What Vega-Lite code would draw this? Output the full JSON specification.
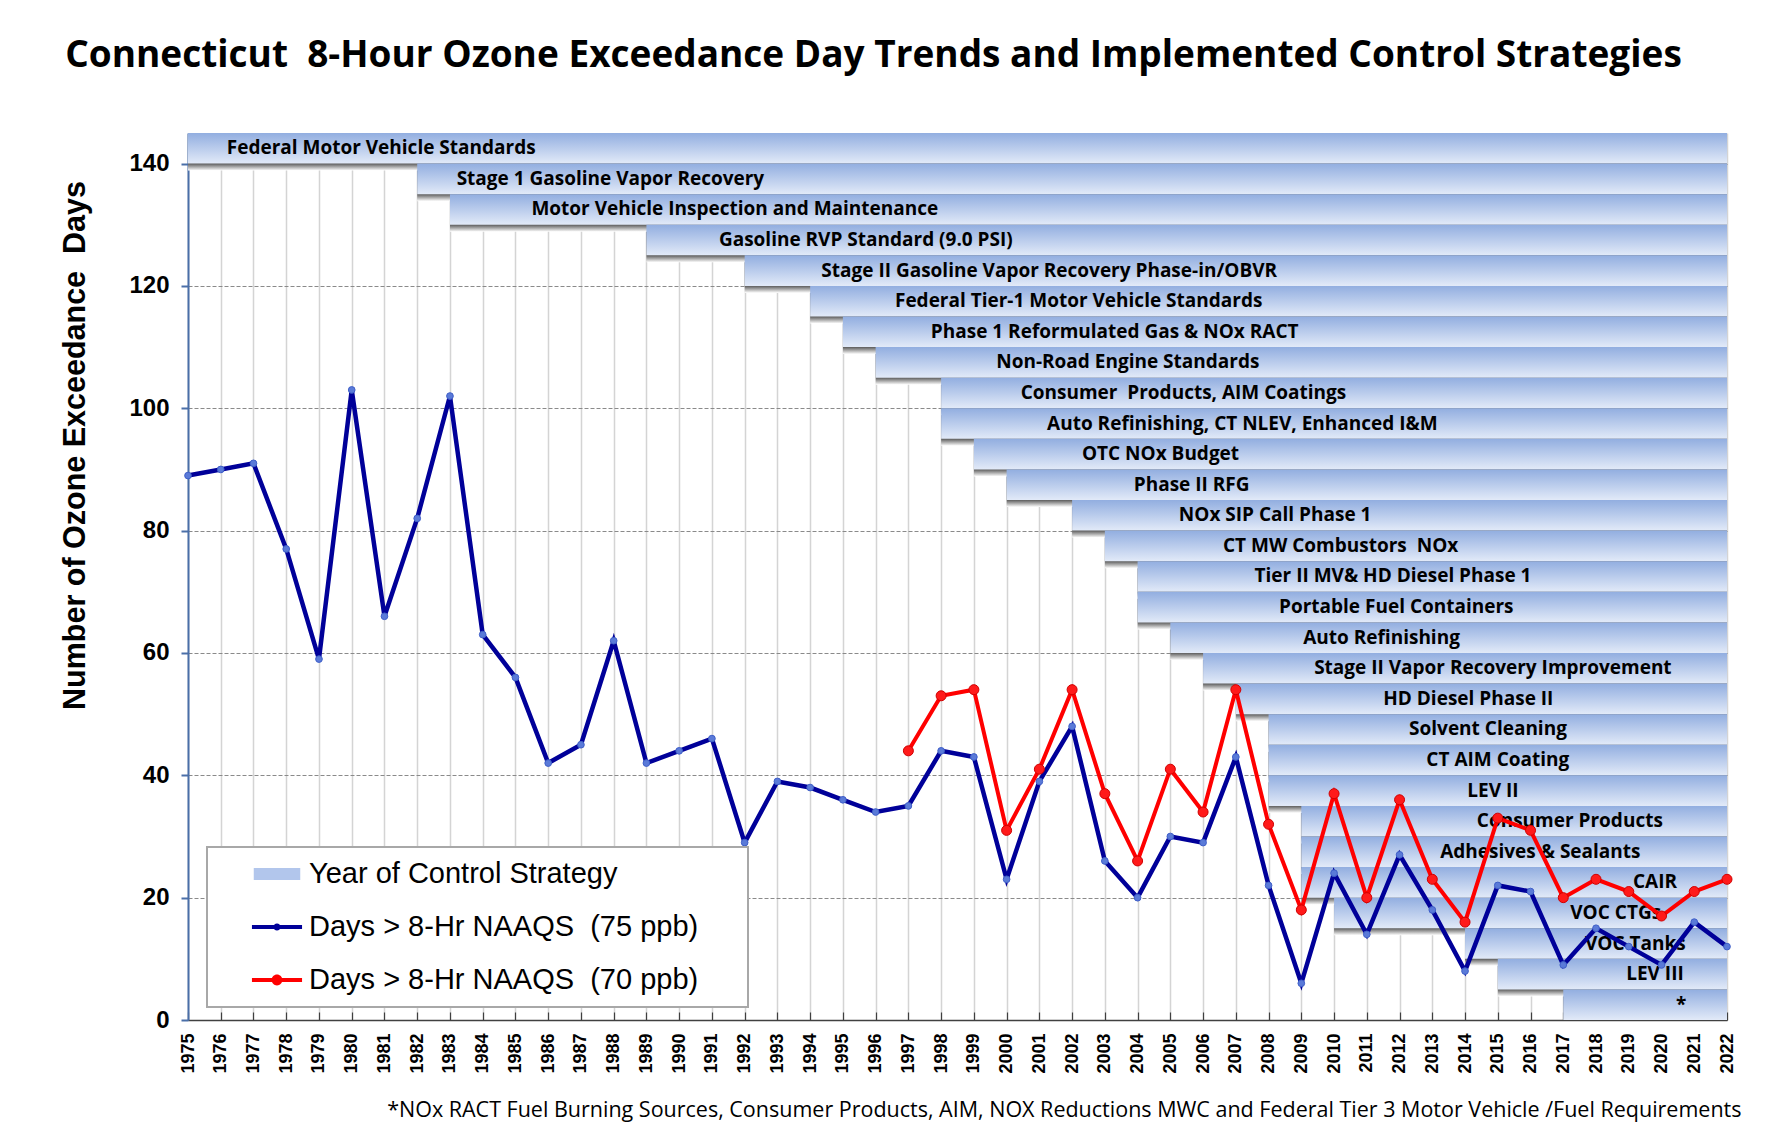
{
  "$schema": "https://vega.github.io/schema/vega-lite/v6.json",
  "width": 1539,
  "height": 887,
  "autosize": {"type": "none"},
  "padding": {"left": 188, "top": 133, "right": 48, "bottom": 119},
  "background": "white",
  "title": {
    "text": "Connecticut\u00a0 8-Hour Ozone Exceedance Day Trends and Implemented Control Strategies",
    "font": "Open Sans", "fontSize": 37, "fontWeight": "bold", "color": "black",
    "anchor": "middle", "frame": "group", "dx": -84, "offset": 58
  },
  "datasets": {
    "strategies": [
      {"strategy": "Federal Motor Vehicle Standards", "start": 1975, "end": 2022, "top": 145, "bottom": 140, "labelYear": 1980.9},
      {"strategy": "Stage 1 Gasoline Vapor Recovery", "start": 1982, "end": 2022, "top": 140, "bottom": 135, "labelYear": 1987.9},
      {"strategy": "Motor Vehicle Inspection and Maintenance", "start": 1983, "end": 2022, "top": 135, "bottom": 130, "labelYear": 1991.7},
      {"strategy": "Gasoline RVP Standard (9.0 PSI)", "start": 1989, "end": 2022, "top": 130, "bottom": 125, "labelYear": 1995.7},
      {"strategy": "Stage II Gasoline Vapor Recovery Phase-in/OBVR", "start": 1992, "end": 2022, "top": 125, "bottom": 120, "labelYear": 2001.3},
      {"strategy": "Federal Tier-1 Motor Vehicle Standards", "start": 1994, "end": 2022, "top": 120, "bottom": 115, "labelYear": 2002.2},
      {"strategy": "Phase 1 Reformulated Gas & NOx RACT", "start": 1995, "end": 2022, "top": 115, "bottom": 110, "labelYear": 2003.3},
      {"strategy": "Non-Road Engine Standards", "start": 1996, "end": 2022, "top": 110, "bottom": 105, "labelYear": 2003.7},
      {"strategy": "Consumer\u00a0 Products, AIM Coatings", "start": 1998, "end": 2022, "top": 105, "bottom": 100, "labelYear": 2005.4},
      {"strategy": "Auto Refinishing, CT NLEV, Enhanced I&M", "start": 1998, "end": 2022, "top": 100, "bottom": 95, "labelYear": 2007.2},
      {"strategy": "OTC NOx Budget", "start": 1999, "end": 2022, "top": 95, "bottom": 90, "labelYear": 2004.7},
      {"strategy": "Phase II RFG", "start": 2000, "end": 2022, "top": 90, "bottom": 85, "labelYear": 2005.65},
      {"strategy": "NOx SIP Call Phase 1", "start": 2002, "end": 2022, "top": 85, "bottom": 80, "labelYear": 2008.2},
      {"strategy": "CT MW Combustors\u00a0 NOx", "start": 2003, "end": 2022, "top": 80, "bottom": 75, "labelYear": 2010.2},
      {"strategy": "Tier II MV& HD Diesel Phase 1", "start": 2004, "end": 2022, "top": 75, "bottom": 70, "labelYear": 2011.8},
      {"strategy": "Portable Fuel Containers", "start": 2004, "end": 2022, "top": 70, "bottom": 65, "labelYear": 2011.9},
      {"strategy": "Auto Refinishing", "start": 2005, "end": 2022, "top": 65, "bottom": 60, "labelYear": 2011.45},
      {"strategy": "Stage II Vapor Recovery Improvement", "start": 2006, "end": 2022, "top": 60, "bottom": 55, "labelYear": 2014.85},
      {"strategy": "HD Diesel Phase II", "start": 2007, "end": 2022, "top": 55, "bottom": 50, "labelYear": 2014.1},
      {"strategy": "Solvent Cleaning", "start": 2008, "end": 2022, "top": 50, "bottom": 45, "labelYear": 2014.7},
      {"strategy": "CT AIM Coating", "start": 2008, "end": 2022, "top": 45, "bottom": 40, "labelYear": 2015.0},
      {"strategy": "LEV II", "start": 2008, "end": 2022, "top": 40, "bottom": 35, "labelYear": 2014.85},
      {"strategy": "Consumer Products", "start": 2009, "end": 2022, "top": 35, "bottom": 30, "labelYear": 2017.2},
      {"strategy": "Adhesives & Sealants", "start": 2009, "end": 2022, "top": 30, "bottom": 25, "labelYear": 2016.3},
      {"strategy": "CAIR", "start": 2009, "end": 2022, "top": 25, "bottom": 20, "labelYear": 2019.8},
      {"strategy": "VOC CTGs", "start": 2010, "end": 2022, "top": 20, "bottom": 15, "labelYear": 2018.6},
      {"strategy": "VOC Tanks", "start": 2014, "end": 2022, "top": 15, "bottom": 10, "labelYear": 2019.2},
      {"strategy": "LEV III", "start": 2015, "end": 2022, "top": 10, "bottom": 5, "labelYear": 2019.8},
      {"strategy": "*", "start": 2017, "end": 2022, "top": 5, "bottom": 0, "labelYear": 2020.6}
    ],
    "ozone": [
      {"year": 1975, "days": 89, "ppb": 75}, {"year": 1976, "days": 90, "ppb": 75}, {"year": 1977, "days": 91, "ppb": 75},
      {"year": 1978, "days": 77, "ppb": 75}, {"year": 1979, "days": 59, "ppb": 75}, {"year": 1980, "days": 103, "ppb": 75},
      {"year": 1981, "days": 66, "ppb": 75}, {"year": 1982, "days": 82, "ppb": 75}, {"year": 1983, "days": 102, "ppb": 75},
      {"year": 1984, "days": 63, "ppb": 75}, {"year": 1985, "days": 56, "ppb": 75}, {"year": 1986, "days": 42, "ppb": 75},
      {"year": 1987, "days": 45, "ppb": 75}, {"year": 1988, "days": 62, "ppb": 75}, {"year": 1989, "days": 42, "ppb": 75},
      {"year": 1990, "days": 44, "ppb": 75}, {"year": 1991, "days": 46, "ppb": 75}, {"year": 1992, "days": 29, "ppb": 75},
      {"year": 1993, "days": 39, "ppb": 75}, {"year": 1994, "days": 38, "ppb": 75}, {"year": 1995, "days": 36, "ppb": 75},
      {"year": 1996, "days": 34, "ppb": 75}, {"year": 1997, "days": 35, "ppb": 75}, {"year": 1998, "days": 44, "ppb": 75},
      {"year": 1999, "days": 43, "ppb": 75}, {"year": 2000, "days": 23, "ppb": 75}, {"year": 2001, "days": 39, "ppb": 75},
      {"year": 2002, "days": 48, "ppb": 75}, {"year": 2003, "days": 26, "ppb": 75}, {"year": 2004, "days": 20, "ppb": 75},
      {"year": 2005, "days": 30, "ppb": 75}, {"year": 2006, "days": 29, "ppb": 75}, {"year": 2007, "days": 43, "ppb": 75},
      {"year": 2008, "days": 22, "ppb": 75}, {"year": 2009, "days": 6, "ppb": 75}, {"year": 2010, "days": 24, "ppb": 75},
      {"year": 2011, "days": 14, "ppb": 75}, {"year": 2012, "days": 27, "ppb": 75}, {"year": 2013, "days": 18, "ppb": 75},
      {"year": 2014, "days": 8, "ppb": 75}, {"year": 2015, "days": 22, "ppb": 75}, {"year": 2016, "days": 21, "ppb": 75},
      {"year": 2017, "days": 9, "ppb": 75}, {"year": 2018, "days": 15, "ppb": 75}, {"year": 2019, "days": 12, "ppb": 75},
      {"year": 2020, "days": 9, "ppb": 75}, {"year": 2021, "days": 16, "ppb": 75}, {"year": 2022, "days": 12, "ppb": 75},
      {"year": 1997, "days": 44, "ppb": 70}, {"year": 1998, "days": 53, "ppb": 70}, {"year": 1999, "days": 54, "ppb": 70},
      {"year": 2000, "days": 31, "ppb": 70}, {"year": 2001, "days": 41, "ppb": 70}, {"year": 2002, "days": 54, "ppb": 70},
      {"year": 2003, "days": 37, "ppb": 70}, {"year": 2004, "days": 26, "ppb": 70}, {"year": 2005, "days": 41, "ppb": 70},
      {"year": 2006, "days": 34, "ppb": 70}, {"year": 2007, "days": 54, "ppb": 70}, {"year": 2008, "days": 32, "ppb": 70},
      {"year": 2009, "days": 18, "ppb": 70}, {"year": 2010, "days": 37, "ppb": 70}, {"year": 2011, "days": 20, "ppb": 70},
      {"year": 2012, "days": 36, "ppb": 70}, {"year": 2013, "days": 23, "ppb": 70}, {"year": 2014, "days": 16, "ppb": 70},
      {"year": 2015, "days": 33, "ppb": 70}, {"year": 2016, "days": 31, "ppb": 70}, {"year": 2017, "days": 20, "ppb": 70},
      {"year": 2018, "days": 23, "ppb": 70}, {"year": 2019, "days": 21, "ppb": 70}, {"year": 2020, "days": 17, "ppb": 70},
      {"year": 2021, "days": 21, "ppb": 70}, {"year": 2022, "days": 23, "ppb": 70}
    ],
    "legendItems": [
      {"item": "Year of Control Strategy"},
      {"item": "Days > 8-Hr NAAQS\u00a0 (75 ppb)"},
      {"item": "Days > 8-Hr NAAQS\u00a0 (70 ppb)"}
    ]
  },
  "layer": [
    {
      "data": {"name": "strategies"},
      "mark": {
        "type": "rect", "clip": true, "yOffset": 7, "y2Offset": 7,
        "color": {"gradient": "linear", "x1": 0, "y1": 0, "x2": 0, "y2": 1,
          "stops": [{"offset": 0, "color": "#606060"}, {"offset": 0.77, "color": "#5c5c5c"}, {"offset": 1, "color": "#ffffff"}]}
      },
      "encoding": {
        "x": {
          "field": "start", "type": "quantitative",
          "scale": {"domain": [1975, 2022], "nice": false, "zero": false},
          "axis": {
            "values": [1975,1976,1977,1978,1979,1980,1981,1982,1983,1984,1985,1986,1987,1988,1989,1990,1991,1992,1993,1994,1995,1996,1997,1998,1999,2000,2001,2002,2003,2004,2005,2006,2007,2008,2009,2010,2011,2012,2013,2014,2015,2016,2017,2018,2019,2020,2021,2022],
            "tickCount": 60,
            "format": "d", "labelAngle": 270, "labelAlign": "right", "labelBaseline": "middle",
            "labelFont": "Liberation Sans", "labelFontWeight": "bold", "labelFontSize": 18, "labelColor": "black",
            "labelPadding": 21, "labelOverlap": false, "labelFlush": false,
            "tickSize": -8, "tickColor": "#404040", "tickWidth": 1.2,
            "domainColor": "#404040", "domainWidth": 1.5,
            "grid": true, "gridColor": "#d4d4d4", "gridWidth": 1.5,
            "title": "*NOx RACT Fuel Burning Sources, Consumer Products, AIM, NOX Reductions MWC and Federal Tier 3 Motor Vehicle /Fuel Requirements",
            "titleFont": "Open Sans", "titleFontWeight": "normal", "titleFontSize": 21.5, "titleColor": "black",
            "titleX": 1553, "titleY": 90, "titleAlign": "right", "titleBaseline": "middle", "titleAngle": 0
          }
        },
        "x2": {"field": "end"},
        "y": {
          "field": "top", "type": "quantitative",
          "scale": {"domain": [0, 145], "nice": false, "zero": true},
          "axis": {
            "values": [0, 20, 40, 60, 80, 100, 120, 140],
            "labelFont": "Liberation Sans", "labelFontWeight": "bold", "labelFontSize": 24, "labelColor": "black",
            "labelPadding": 12,
            "tickSize": 7, "tickColor": "#4a6fa8", "tickWidth": 2,
            "domainColor": "#4a6fa8", "domainWidth": 2,
            "grid": true, "gridColor": "#8a8a8a", "gridDash": [4, 2], "gridWidth": 1,
            "title": "Number of Ozone Exceedance\u00a0 Days",
            "titleFont": "Liberation Sans", "titleFontWeight": "bold", "titleFontSize": 30.5, "titleColor": "black",
            "titleX": -113, "titleY": 312, "titleAngle": 270, "titleAlign": "center", "titleBaseline": "middle"
          }
        },
        "y2": {"field": "bottom"}
      }
    },
    {
      "data": {"name": "strategies"},
      "mark": {
        "type": "rect",
        "color": {"gradient": "linear", "x1": 0, "y1": 0, "x2": 0, "y2": 1,
          "stops": [{"offset": 0, "color": "#92aee0"}, {"offset": 1, "color": "#e2eaf8"}]}
      },
      "encoding": {
        "x": {"field": "start", "type": "quantitative"},
        "x2": {"field": "end"},
        "y": {"field": "top", "type": "quantitative"},
        "y2": {"field": "bottom"}
      }
    },
    {
      "data": {"name": "strategies"},
      "mark": {"type": "text", "font": "Open Sans", "fontWeight": "bold", "fontSize": 19, "color": "black", "align": "center", "baseline": "middle", "dy": -15.3},
      "encoding": {
        "x": {"field": "labelYear", "type": "quantitative"},
        "y": {"field": "bottom", "type": "quantitative"},
        "text": {"field": "strategy"}
      }
    },
    {
      "data": {"name": "ozone"},
      "transform": [{"filter": "datum.ppb == 75"}],
      "mark": {"type": "line", "color": "#000099", "strokeWidth": 4.5},
      "encoding": {
        "x": {"field": "year", "type": "quantitative"},
        "y": {"field": "days", "type": "quantitative"}
      }
    },
    {
      "data": {"name": "ozone"},
      "transform": [{"filter": "datum.ppb == 75"}],
      "mark": {"type": "point", "filled": true, "fill": "#5a7ad8", "stroke": "#3f5fc8", "strokeWidth": 1, "size": 45, "opacity": 1},
      "encoding": {
        "x": {"field": "year", "type": "quantitative"},
        "y": {"field": "days", "type": "quantitative"}
      }
    },
    {
      "data": {"name": "ozone"},
      "transform": [{"filter": "datum.ppb == 70"}],
      "mark": {"type": "line", "color": "#ff0000", "strokeWidth": 4},
      "encoding": {
        "x": {"field": "year", "type": "quantitative"},
        "y": {"field": "days", "type": "quantitative"}
      }
    },
    {
      "data": {"name": "ozone"},
      "transform": [{"filter": "datum.ppb == 70"}],
      "mark": {"type": "point", "filled": true, "fill": "#ff1a1a", "stroke": "#d00000", "strokeWidth": 1, "size": 100, "opacity": 1},
      "encoding": {
        "x": {"field": "year", "type": "quantitative"},
        "y": {"field": "days", "type": "quantitative"}
      }
    },
    {
      "data": {"name": "legendItems"},
      "transform": [{"filter": "datum.item == 'none'"}],
      "mark": {"type": "point", "filled": true, "opacity": 1},
      "encoding": {
        "color": {
          "field": "item", "type": "nominal",
          "scale": {"domain": ["Year of Control Strategy", "Days > 8-Hr NAAQS\u00a0 (75 ppb)", "Days > 8-Hr NAAQS\u00a0 (70 ppb)"], "range": ["#b2c6ec", "#000099", "#ff0000"]},
          "legend": {
            "title": "\u00a0", "titleOrient": "right", "titlePadding": 38, "titleFontSize": 10,
            "orient": "none", "legendX": 19, "legendY": 714,
            "symbolSize": 900, "symbolOffset": 43, "symbolStrokeWidth": 0, "labelOffset": 17,
            "padding": 12, "rowPadding": 23,
            "labelFont": "Liberation Sans", "labelFontSize": 29, "labelColor": "black", "labelLimit": 0,
            "fillColor": "white", "strokeColor": "#a8a8a8"
          }
        },
        "shape": {
          "field": "item", "type": "nominal",
          "scale": {"domain": ["Year of Control Strategy", "Days > 8-Hr NAAQS\u00a0 (75 ppb)", "Days > 8-Hr NAAQS\u00a0 (70 ppb)"],
            "range": [
              "M-1.55,-0.4H1.55V0.4H-1.55Z",
              "M-1.67,-0.14H1.67V0.14H-1.67ZM0.24,0A0.24,0.24 0 1,1 -0.24,0A0.24,0.24 0 1,1 0.24,0Z",
              "M-1.67,-0.13H1.67V0.13H-1.67ZM0.36,0A0.36,0.36 0 1,1 -0.36,0A0.36,0.36 0 1,1 0.36,0Z"
            ]},
          "legend": {
            "title": "\u00a0", "titleOrient": "right", "titlePadding": 38, "titleFontSize": 10,
            "orient": "none", "legendX": 19, "legendY": 714,
            "symbolSize": 900, "symbolOffset": 43, "symbolStrokeWidth": 0, "labelOffset": 17,
            "padding": 12, "rowPadding": 23,
            "labelFont": "Liberation Sans", "labelFontSize": 29, "labelColor": "black", "labelLimit": 0,
            "fillColor": "white", "strokeColor": "#a8a8a8"
          }
        }
      }
    }
  ],
  "config": {
    "view": {"stroke": null},
    "legend": {"strokeWidth": 2}
  }
}
